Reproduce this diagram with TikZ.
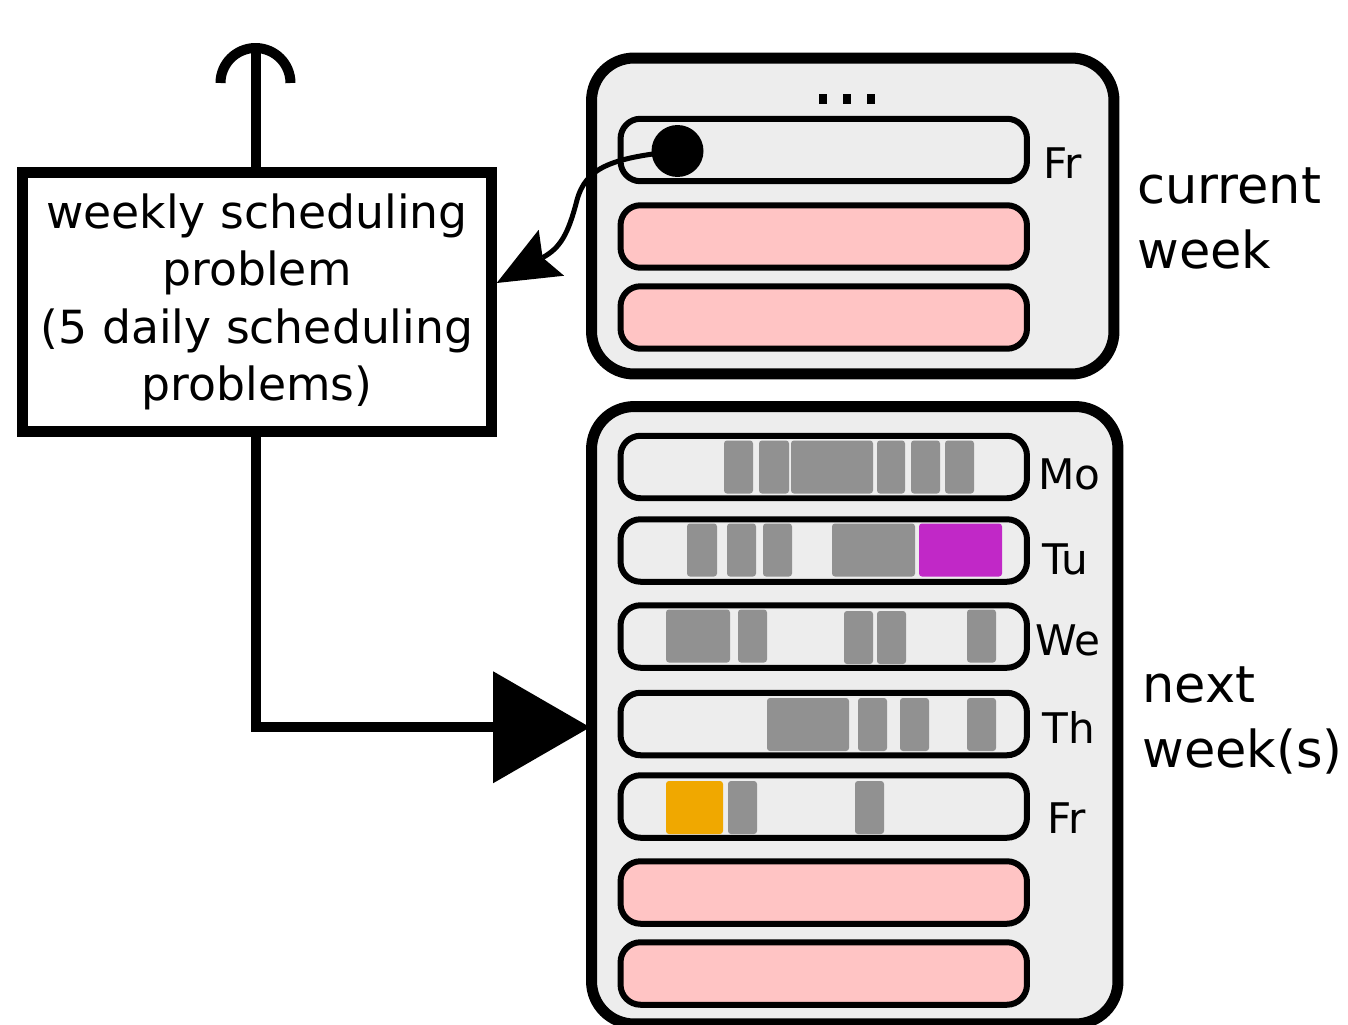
\documentclass[tikz,border=0pt]{standalone}
\usepackage{fontspec}
\setmainfont{DejaVu Sans}
\usetikzlibrary{arrows.meta,calc}

\definecolor{panelbg}{HTML}{EDEDED}
\definecolor{blockedday}{HTML}{FFC4C4}
\definecolor{slotgray}{HTML}{919191}
\definecolor{slotmagenta}{HTML}{C128C7}
\definecolor{slotorange}{HTML}{F0A800}

\tikzset{
  weekpanel/.style={draw=black, fill=panelbg, line width=0.22cm,
    rounded corners=0.85cm, inner sep=0pt},
  daybar/.style={draw=black, fill=panelbg, line width=0.12cm,
    rounded corners=0.4cm, minimum width=8.13cm, minimum height=1.25cm,
    inner sep=0pt},
  freebar/.style={daybar, fill=blockedday},
  probbox/.style={draw=black, fill=white, line width=0.22cm,
    minimum width=9.37cm, minimum height=5.17cm, inner sep=0pt,
    align=center, font=\fontsize{26pt}{32.7pt}\selectfont},
  conn/.style={line width=0.2cm},
  daylabel/.style={anchor=base west, inner sep=0pt,
    font=\fontsize{24pt}{28pt}\selectfont},
  weeklabel/.style={anchor=base west, inner sep=0pt, align=left,
    font=\fontsize{29pt}{36.9pt}\selectfont},
  slot/.style={rounded corners=0.06cm},
}

% #1 fill colour, #2 bar centre (y), #3 left, #4 right
\newcommand\slotblock[4]{\fill[slot,#1] (#3,#2-26.5) rectangle (#4,#2+26.5);}

\begin{document}
\begin{tikzpicture}[x=0.02cm, y=-0.02cm]
\useasboundingbox (0,0) rectangle (1348,1024);

% ---- week panels ----
\node[weekpanel, minimum width=10.45cm, minimum height=6.32cm] (cur) at (852.75,216) {};
\node[weekpanel, minimum width=10.53cm, minimum height=12.35cm] (next) at (854.75,715.25) {};

% ---- current week ----
\foreach \dx in {823,847,871}
  \fill (\dx-4,94) rectangle (\dx+4,104);
\node[daybar] (cfr) at (823.75,150) {};
\node[freebar] (csa) at (823.75,236.5) {};
\node[freebar] (csu) at (823.75,317.5) {};
\node[daylabel] (lcfr) at (1043,178) {Fr};
% base anchor of a multi-line node sits on its last line
\node[weeklabel] (lcur) at (1137,268) {current\\week};

% ---- next week(s) ----
\node[daybar] (mo) at (823.75,467) {};
\node[daybar] (tu) at (823.75,550.5) {};
\node[daybar] (we) at (823.75,636.5) {};
\node[daybar] (th) at (823.75,724) {};
\node[daybar] (fr) at (823.75,806.5) {};
\node[freebar] (sa) at (823.75,892.5) {};
\node[freebar] (su) at (823.75,973.5) {};

% occupied slots per day
\slotblock{slotgray}{467}{724}{753}
\slotblock{slotgray}{467}{759}{789}
\slotblock{slotgray}{467}{791}{873}
\slotblock{slotgray}{467}{877}{905}
\slotblock{slotgray}{467}{911}{940}
\slotblock{slotgray}{467}{945}{974}

\slotblock{slotgray}{550}{687}{717}
\slotblock{slotgray}{550}{727}{756}
\slotblock{slotgray}{550}{763}{792}
\slotblock{slotgray}{550}{832}{915}
\slotblock{slotmagenta}{550}{919}{1002}

\slotblock{slotgray}{636}{666}{730}
\slotblock{slotgray}{636}{738}{767}
\slotblock{slotgray}{637.5}{844}{873}
\slotblock{slotgray}{637.5}{877}{906}
\slotblock{slotgray}{636}{967}{996}

\slotblock{slotgray}{724.5}{767}{849}
\slotblock{slotgray}{724.5}{858}{887}
\slotblock{slotgray}{724.5}{900}{929}
\slotblock{slotgray}{724.5}{967}{996}

\slotblock{slotorange}{807.5}{666}{723}
\slotblock{slotgray}{807.5}{728}{757}
\slotblock{slotgray}{807.5}{855}{884}

\node[daylabel] (lmo) at (1038,489) {Mo};
\node[daylabel] (ltu) at (1042,574) {Tu};
\node[daylabel] (lwe) at (1035,655) {We};
\node[daylabel] (lth) at (1042,743) {Th};
\node[daylabel] (lfr) at (1047,833) {Fr};
\node[weeklabel] (lnext) at (1142,767) {next\\week(s)};

% ---- scheduling problem ----
\node[probbox] (prob) at (257,302) {weekly scheduling\\problem\\(5 daily scheduling\\problems)};

% output to the top
\coordinate (out) at (256,48);
\draw[conn] (prob.north -| out) -- (out);
\draw[conn] (220.5,83) arc[start angle=180, end angle=0, radius=0.7cm];

% schedule handed to the following weeks
\draw[conn, -{Triangle[length=1.94cm, width=2.24cm, line width=0pt]}]
  (prob.south -| out) |- ($(next.west)+(4,12)$);

% current Friday's state fed back into the problem
\node[circle, fill=black, minimum size=1.04cm, inner sep=0pt] (dot) at (677.5,151) {};
\draw[line width=0.1cm, -{Stealth[length=1.25cm, width=1.05cm, inset=0.2cm, line width=0pt]}]
  (dot.center) .. controls (610,158) and (586,168) .. (577,200)
  .. controls (568,235) and (560,248) .. ($(prob.east)+(0,-19)$);
\end{tikzpicture}
\end{document}
